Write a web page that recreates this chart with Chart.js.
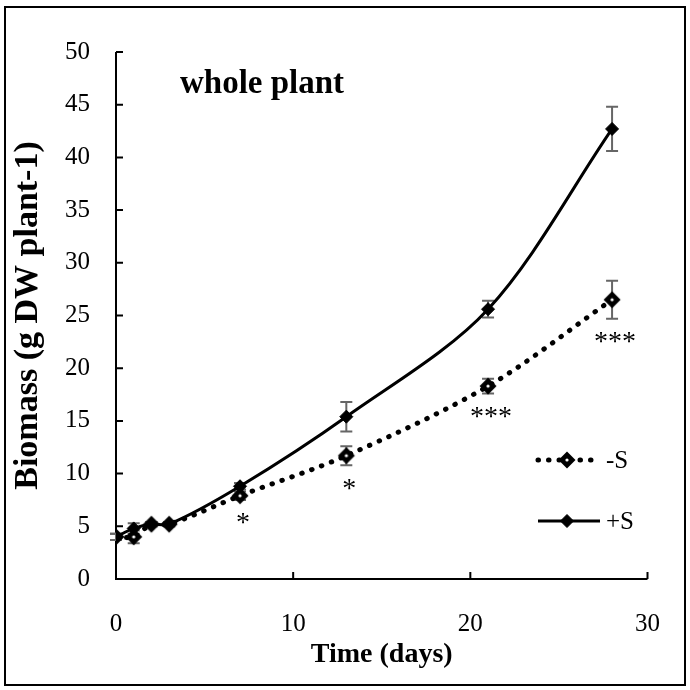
<!DOCTYPE html>
<html>
<head>
<meta charset="utf-8">
<script src="https://cdn.jsdelivr.net/npm/chart.js@4.4.1/dist/chart.umd.min.js"></script>
<style>
  html, body { margin: 0; padding: 0; background: #fff; }
  #wrap { width: 690px; height: 690px; }
</style>
</head>
<body>
<div id="wrap"><canvas id="biomassChart" width="690" height="690"></canvas></div>
<script>
// values (g DW per plant)
const days = [0, 1, 2, 3, 7, 13, 21, 28];
const minusS = [4.0, 4.0, 5.2, 5.2, 7.9, 11.7, 18.3, 26.5];
const plusS = [4.0, 4.8, 5.2, 5.2, 8.8, 15.4, 25.6, 42.7];
const minusErr = [0.3, 0.6, 0.2, 0.2, 0.4, 0.9, 0.7, 1.8];
const plusErr = [0.3, 0.5, 0.2, 0.2, 0.3, 1.4, 0.8, 2.1];
const sigMarks = ['', '', '', '', '*', '*', '***', '***'];
const seriesLabels = ['-S', '+S'];
const yTicks = [0, 5, 10, 15, 20, 25, 30, 35, 40, 45, 50];
const xTicks = [0, 10, 20, 30];

const serif = '"Liberation Serif", "Times New Roman", serif';

const toPoints = vals => days.map((d, i) => ({ x: d, y: vals[i] }));

// black diamond with a tiny white centre, used for the -S series
const openDiamond = document.createElement('canvas');
openDiamond.width = 20;
openDiamond.height = 20;
(function () {
  const c = openDiamond.getContext('2d');
  c.fillStyle = '#000';
  c.beginPath();
  c.moveTo(10, 1.5); c.lineTo(18.5, 10); c.lineTo(10, 18.5); c.lineTo(1.5, 10);
  c.closePath();
  c.fill();
  c.fillStyle = '#fff';
  c.beginPath();
  c.arc(10, 10, 1.6, 0, Math.PI * 2);
  c.fill();
})();

// white background + outer frame
const framePlugin = {
  id: 'framePlugin',
  beforeDraw(chart) {
    const ctx = chart.ctx;
    ctx.save();
    ctx.fillStyle = '#fff';
    ctx.fillRect(0, 0, chart.width, chart.height);
    ctx.restore();
  },
  afterDraw(chart) {
    const ctx = chart.ctx;
    ctx.save();
    ctx.strokeStyle = '#000';
    ctx.lineWidth = 2;
    ctx.strokeRect(5, 7, chart.width - 10, chart.height - 12);
    ctx.restore();
  }
};

// axis lines with inward tick marks
const axesLines = {
  id: 'axesLines',
  beforeDatasetsDraw(chart) {
    const { ctx, chartArea: a, scales: { x, y } } = chart;
    ctx.save();
    ctx.strokeStyle = '#000';
    ctx.lineWidth = 2;
    ctx.beginPath();
    ctx.moveTo(a.left, a.top);
    ctx.lineTo(a.left, a.bottom);
    ctx.lineTo(a.right, a.bottom);
    y.ticks.forEach(t => {
      const py = y.getPixelForValue(t.value);
      ctx.moveTo(a.left, py);
      ctx.lineTo(a.left + 7, py);
    });
    x.ticks.forEach(t => {
      const px = x.getPixelForValue(t.value);
      ctx.moveTo(px, a.bottom);
      ctx.lineTo(px, a.bottom - 7);
    });
    ctx.stroke();
    ctx.restore();
  }
};

const errorBars = {
  id: 'errorBars',
  beforeDatasetsDraw(chart) {
    const { ctx, scales: { x, y } } = chart;
    ctx.save();
    ctx.strokeStyle = '#666';
    ctx.lineWidth = 2;
    [[minusS, minusErr], [plusS, plusErr]].forEach(([vals, errs]) => {
      vals.forEach((v, i) => {
        const px = x.getPixelForValue(days[i]);
        const top = y.getPixelForValue(v + errs[i]);
        const bot = y.getPixelForValue(v - errs[i]);
        ctx.beginPath();
        ctx.moveTo(px, top); ctx.lineTo(px, bot);
        ctx.moveTo(px - 6, top); ctx.lineTo(px + 6, top);
        ctx.moveTo(px - 6, bot); ctx.lineTo(px + 6, bot);
        ctx.stroke();
      });
    });
    ctx.restore();
  }
};

// significance stars under the -S points, panel title, legend
const annotations = {
  id: 'annotations',
  afterDraw(chart) {
    const { ctx, scales: { x, y } } = chart;
    ctx.save();
    ctx.fillStyle = '#000';
    ctx.font = '28px ' + serif;
    ctx.textAlign = 'center';
    ctx.textBaseline = 'middle';
    sigMarks.forEach((m, i) => {
      if (!m) return;
      const px = x.getPixelForValue(days[i]);
      const py = y.getPixelForValue(minusS[i] - minusErr[i]) + 24;
      ctx.fillText(m, px + 3, py);
    });

    ctx.font = 'bold 33px ' + serif;
    ctx.textAlign = 'left';
    ctx.fillText('whole plant', 180, 84);

    chart.data.datasets.forEach((ds, i) => {
      const yy = 460 + i * 61;
      ctx.save();
      ctx.strokeStyle = ds.borderColor;
      ctx.lineWidth = ds.borderWidth;
      ctx.lineCap = ds.borderCapStyle || 'butt';
      ctx.setLineDash(ds.borderDash || []);
      ctx.beginPath();
      ctx.moveTo(538, yy);
      ctx.lineTo(600, yy);
      ctx.stroke();
      ctx.restore();
      ctx.save();
      ctx.fillStyle = ds.pointBackgroundColor;
      ctx.strokeStyle = ds.pointBorderColor;
      ctx.lineWidth = ds.pointBorderWidth;
      Chart.helpers.drawPoint(ctx, {
        pointStyle: ds.pointStyle, radius: ds.pointRadius, rotation: 0, borderWidth: ds.pointBorderWidth
      }, 567, yy);
      ctx.restore();
      ctx.font = '25px ' + serif;
      ctx.textAlign = 'left';
      ctx.fillText(seriesLabels[i], 606, yy + 1);
    });
    ctx.restore();
  }
};

const ctx = document.getElementById('biomassChart').getContext('2d');
const biomassChart = new Chart(ctx, {
  type: 'scatter',
  data: {
    datasets: [{
      label: seriesLabels[0],
      data: toPoints(minusS),
      showLine: true,
      borderColor: '#000',
      borderWidth: 5,
      borderDash: [0.5, 10],
      borderCapStyle: 'round',
      tension: 0.32,
      pointStyle: openDiamond,
      pointRadius: 9,
      pointBorderWidth: 0,
      pointBackgroundColor: '#000',
      pointBorderColor: '#000',
      order: 2
    }, {
      label: seriesLabels[1],
      data: toPoints(plusS),
      showLine: true,
      borderColor: '#000',
      borderWidth: 3,
      tension: 0.32,
      pointStyle: 'rectRot',
      pointRadius: 6.5,
      pointBorderWidth: 1,
      pointBackgroundColor: '#000',
      pointBorderColor: '#000',
      order: 1
    }]
  },
  options: {
    responsive: false,
    animation: false,
    layout: { padding: { left: 0, right: 41, top: 52, bottom: 0 } },
    plugins: { legend: { display: false }, tooltip: { enabled: false } },
    scales: {
      x: {
        type: 'linear',
        min: 0,
        max: 30,
        border: { display: false },
        grid: { display: false, drawTicks: false },
        afterBuildTicks: s => { s.ticks = xTicks.map(v => ({ value: v })); },
        afterFit: s => { s.height = 111; },
        ticks: { padding: 30, color: '#000', font: { family: serif, size: 25 } },
        title: {
          display: true, text: 'Time (days)', color: '#000',
          font: { family: serif, size: 28, weight: 'bold' }, padding: { top: 0, bottom: 18 }
        }
      },
      y: {
        type: 'linear',
        min: 0,
        max: 50,
        border: { display: false },
        grid: { display: false, drawTicks: false },
        afterBuildTicks: s => { s.ticks = yTicks.map(v => ({ value: v })); },
        afterFit: s => { s.width = 116; },
        ticks: { padding: 26, color: '#000', font: { family: serif, size: 25 } },
        title: {
          display: true, text: 'Biomass (g DW plant-1)', color: '#000',
          font: { family: serif, size: 34, weight: 'bold' }, padding: { top: 8, bottom: 0 }
        }
      }
    }
  },
  plugins: [framePlugin, axesLines, errorBars, annotations]
});
</script>
</body>
</html>
